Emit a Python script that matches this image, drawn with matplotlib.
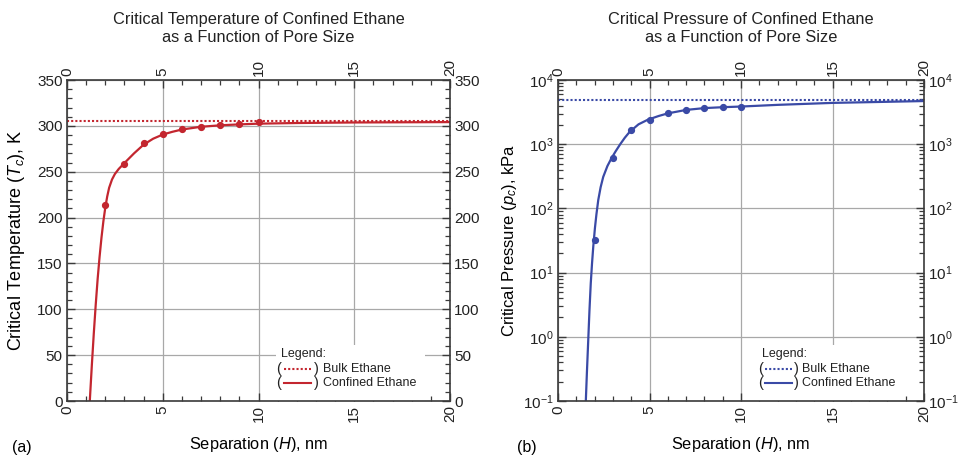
import matplotlib
matplotlib.use("Agg")
from matplotlib import pyplot as plt
from matplotlib.patches import Rectangle
from matplotlib.ticker import MultipleLocator, LogLocator, NullFormatter

plt.rcParams["font.family"] = ["Liberation Sans", "DejaVu Sans"]
plt.rcParams["mathtext.fontset"] = "custom"
plt.rcParams["mathtext.rm"] = "Liberation Sans"
plt.rcParams["mathtext.it"] = "Liberation Sans:italic"
plt.rcParams["font.size"] = 11

# measured points (separation in nm)
sep_pts = [2, 3, 4, 5, 6, 7, 8, 9, 10]
tc_pts = [214, 258, 281, 291, 296.5, 299, 301, 302.5, 304]
pc_pts = [32, 600, 1650, 2420, 3100, 3450, 3680, 3780, 3850]

# fitted curves
sep_tc_curve = [1.19, 1.3, 1.4, 1.5, 1.6, 1.7, 1.8, 1.9, 2.0, 2.1, 2.2, 2.35, 2.5,
                2.7, 3.0, 3.5, 4.0, 4.5, 5.0, 5.5, 6.0, 7.0, 8.0, 9.0, 10.0,
                12.0, 15.0, 20.0]
tc_curve = [0, 40, 74, 105, 133, 157, 178, 196, 211, 223, 232.5, 241.5, 247.5,
            253, 259.5, 270, 279.5, 286, 290.5, 293.5, 296, 299, 300.6, 301.6,
            302.4, 303.1, 303.7, 304.1]

sep_pc_curve = [1.52, 1.58, 1.66, 1.72, 1.79, 1.86, 1.93, 2.02, 2.1, 2.2, 2.33,
                2.47, 2.7, 2.92, 3.15, 3.4, 3.65, 3.91, 4.4, 4.9, 5.5, 6.0, 7.0,
                8.0, 9.0, 10.0, 12.0, 15.0, 20.0]
pc_curve = [0.1, 0.28, 1.0, 2.6, 6.8, 14, 26, 50, 81, 135, 214,
            309, 457, 603, 776, 1000, 1260, 1550, 2040, 2400, 2750, 3020, 3420,
            3650, 3770, 3860, 4100, 4400, 4700]

tc_bulk = 305.3
pc_bulk = 4872

red = "#c3262f"
blue = "#3a4aa6"
grid_c = "#a8a8a8"
spine_c = "#3a3a3a"

fig = plt.figure(figsize=(9.64, 4.61), dpi=100)
ax1 = fig.add_axes([67 / 964, 60 / 461, 383 / 964, 321 / 461])
ax2 = fig.add_axes([558 / 964, 60 / 461, 366 / 964, 321 / 461])


def style_axes(ax):
    ax.set_axisbelow(True)
    ax.grid(True, which="major", color=grid_c, linewidth=0.9)
    for s in ax.spines.values():
        s.set_color(spine_c)
        s.set_linewidth(1.2)
    ax.set_xlim(0, 20)
    ax.xaxis.set_major_locator(MultipleLocator(5))
    ax.xaxis.set_minor_locator(MultipleLocator(1))
    ax.tick_params(which="both", direction="in", top=True, right=True,
                   labeltop=True, labelright=True, colors=spine_c,
                   labelcolor="#222222", labelsize=11)
    ax.tick_params(which="major", length=6, width=1.0, pad=3)
    ax.tick_params(which="minor", length=3.5, width=0.9)
    ax.tick_params(axis="x", which="major", labelrotation=90, pad=3)
    ax.set_xlabel("Separation ($H$), nm", fontsize=11.8)
    ax.xaxis.set_label_position("bottom")
    ax.xaxis.set_label_coords(0.5, -0.105)


def legend_box(ax, color):
    ax.add_patch(Rectangle((0.545, 0.0), 0.39, 0.175, transform=ax.transAxes,
                           facecolor="white", edgecolor="none", zorder=1))
    ax.text(0.558, 0.146, "Legend:", transform=ax.transAxes, fontsize=9,
            va="center", ha="left", color="#222222", zorder=3)
    rows = [(0.100, (0, (1, 1)), "Bulk Ethane"),
            (0.056, "-", "Confined Ethane")]
    for y, ls, lab in rows:
        ax.text(0.546, y, "(", transform=ax.transAxes, fontsize=10.5,
                va="center", ha="left", color="#222222", zorder=3)
        ax.plot([0.566, 0.638], [y, y], transform=ax.transAxes, color=color,
                linestyle=ls, linewidth=1.5, zorder=3, clip_on=False)
        ax.text(0.644, y, ")", transform=ax.transAxes, fontsize=10.5,
                va="center", ha="left", color="#222222", zorder=3)
        ax.text(0.668, y, lab, transform=ax.transAxes, fontsize=9,
                va="center", ha="left", color="#222222", zorder=3)


# (a) critical temperature
style_axes(ax1)
ax1.set_ylim(0, 350)
ax1.yaxis.set_major_locator(MultipleLocator(50))
ax1.yaxis.set_minor_locator(MultipleLocator(10))
ax1.axhline(tc_bulk, color=red, linestyle=(0, (1, 1)), linewidth=1.5, zorder=2)
ax1.plot(sep_tc_curve, tc_curve, color=red, linewidth=1.6, zorder=2)
ax1.plot(sep_pts, tc_pts, "o", color=red, markersize=4.2, zorder=2)
ax1.set_ylabel("Critical Temperature ($T_c$), K", fontsize=13)
ax1.yaxis.set_label_coords(-0.104, 0.5)
legend_box(ax1, red)
ax1.text(0.5, 1.11, "Critical Temperature of Confined Ethane\nas a Function of Pore Size",
         transform=ax1.transAxes, ha="center", va="bottom", fontsize=11.8,
         linespacing=1.2, color="#222222")

# (b) critical pressure
style_axes(ax2)
ax2.set_yscale("log")
ax2.set_ylim(0.1, 1e4)
ax2.yaxis.set_major_locator(LogLocator(base=10, numticks=10))
ax2.yaxis.set_minor_locator(LogLocator(base=10, subs=range(2, 10), numticks=20))
ax2.yaxis.set_minor_formatter(NullFormatter())
ax2.axhline(pc_bulk, color=blue, linestyle=(0, (1, 1)), linewidth=1.5, zorder=2)
ax2.plot(sep_pc_curve, pc_curve, color=blue, linewidth=1.6, zorder=2)
ax2.plot(sep_pts, pc_pts, "o", color=blue, markersize=4.2, zorder=2)
ax2.set_ylabel("Critical Pressure ($p_c$), kPa", fontsize=12)
ax2.yaxis.set_label_coords(-0.107, 0.5)
legend_box(ax2, blue)
ax2.text(0.5, 1.11, "Critical Pressure of Confined Ethane\nas a Function of Pore Size",
         transform=ax2.transAxes, ha="center", va="bottom", fontsize=11.8,
         linespacing=1.2, color="#222222")

fig.text(12 / 964, 1 - 447 / 461, "(a)", fontsize=11.5, va="center", ha="left")
fig.text(517 / 964, 1 - 447 / 461, "(b)", fontsize=11.5, va="center", ha="left")

fig.savefig("out.png", dpi=100)
